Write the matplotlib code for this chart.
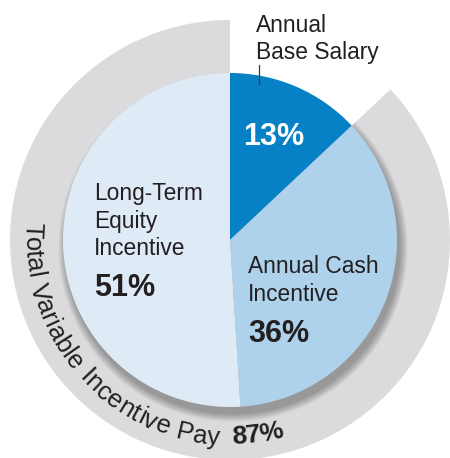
import numpy as np
import matplotlib.pyplot as plt
from matplotlib.patches import Wedge, Circle
from matplotlib.font_manager import FontProperties

# Pay mix (percent of total target pay)
categories = ["Annual Base Salary", "Annual Cash Incentive", "Long-Term Equity Incentive"]
shares = [13, 36, 51]
share_labels = ["13%", "36%", "51%"]
slice_colors = ["#0681c6", "#aed2eb", "#deeaf6"]
ring_label = "Total Variable Incentive Pay"
ring_value = "87%"

text_color = "#231f20"
ring_color = "#dbdbdd"
font = "Liberation Sans"

fig = plt.figure(figsize=(4.5, 4.58), dpi=100)
ax = fig.add_axes([0, 0, 1, 1])

cx, cy = 230, 218
r_pie, r_ring = 167, 220

# grey ring behind the variable part (everything except base salary)
start = 90
gap_end = start - shares[0] / sum(shares) * 360
ring = Wedge((cx, cy), r_ring, start, gap_end + 360, facecolor=ring_color, lw=0, zorder=1)
ax.add_patch(ring)

# soft shadow of the pie on the ring, falling down and to the right
for i in range(12):
    sh = Circle((cx + 3, cy - 7), r_pie + i * 0.7, facecolor="k", alpha=0.026, lw=0, zorder=2)
    ax.add_patch(sh)
    sh.set_clip_path(ring)

wedges, _ = ax.pie(shares, colors=slice_colors, startangle=start, counterclock=False,
                   radius=r_pie, center=(cx, cy), wedgeprops=dict(linewidth=0))
for w in wedges:
    w.set_zorder(3)

ax.set_xlim(0, 450)
ax.set_ylim(0, 458)
ax.set_aspect("equal")
ax.axis("off")

fp_lab = FontProperties(family=font, size=16.4)
fp_big = FontProperties(family=font, size=22, weight="bold")

# base salary label with leader tick
ax.text(256, 426, "Annual", fontproperties=fp_lab, color=text_color, va="baseline")
ax.text(256, 399, "Base Salary", fontproperties=fp_lab, color=text_color, va="baseline")
ax.plot([259, 259], [374, 393], color="#3a3a3a", lw=0.9, zorder=4)
ax.text(243, 313, share_labels[0], fontproperties=fp_big, color="white", va="baseline", zorder=5)

# cash incentive
ax.text(248, 185, "Annual Cash", fontproperties=fp_lab, color=text_color, va="baseline", zorder=5)
ax.text(248, 157, "Incentive", fontproperties=fp_lab, color=text_color, va="baseline", zorder=5)
ax.text(248, 116, share_labels[1], fontproperties=fp_big, color=text_color, va="baseline", zorder=5)

# equity incentive
for y, line in zip([258, 230, 203], ["Long-Term", "Equity", "Incentive"]):
    ax.text(94, y, line, fontproperties=fp_lab, color=text_color, va="baseline", zorder=5)
ax.text(94, 162, share_labels[2], fontproperties=fp_big, color=text_color, va="baseline", zorder=5)

# curved text along the ring
renderer = fig.canvas.get_renderer()


def text_w(s, fp):
    t = ax.text(0, 0, s, fontproperties=fp)
    w = t.get_window_extent(renderer).width
    t.remove()
    return w


def arc_text(s, theta0, r, fp, spacing=0.0):
    wx = text_w("x", fp)
    for i, ch in enumerate(s):
        left = text_w(s[:i] + "x", fp) - wx + i * spacing
        right = text_w(s[:i + 1] + "x", fp) - wx + i * spacing
        th = np.radians(theta0) + (left + right) / 2 / r
        if ch == " ":
            continue
        ax.text(cx + r * np.cos(th), cy + r * np.sin(th), ch, fontproperties=fp,
                color=text_color, rotation=np.degrees(th) + 90, rotation_mode="anchor",
                ha="center", va="baseline", zorder=5)


arc_text(ring_label, 175, 205, FontProperties(family=font, size=18.5), spacing=0.5)
arc_text(ring_value, 270.5, 204, FontProperties(family=font, size=19, weight="bold"))

fig.savefig("out.png", dpi=100)
